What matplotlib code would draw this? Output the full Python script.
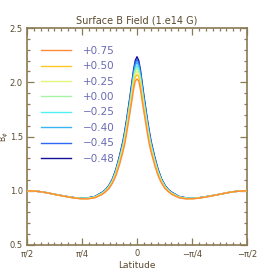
import matplotlib
matplotlib.use('Agg')
import matplotlib.pyplot as plt
import numpy as np
from matplotlib.ticker import MultipleLocator, FixedLocator

# latitude samples (radians, one side; the field is symmetric about the equator)
lat = [0, 0.025, 0.05, 0.075, 0.1, 0.125, 0.15, 0.175, 0.2, 0.25, 0.3, 0.35, 0.4,
       0.45, 0.5, 0.6, 0.7, 0.8, 0.9, 1.0, 1.1, 1.2, 1.3, 1.4, 1.5, np.pi / 2]

labels = ['+0.75', '+0.50', '+0.25', '+0.00', '\u22120.25', '\u22120.40', '\u22120.45', '\u22120.48']
colors = ['#ff8c3c', '#ffc820', '#e4f47c', '#a4f4a4', '#50f0f4', '#3ab4f4', '#2c68f4', '#10109c']

b_p075 = [2.03, 2.01, 1.93, 1.82, 1.72, 1.62, 1.52, 1.43, 1.36, 1.24, 1.14, 1.07, 1.02,
          0.99, 0.965, 0.935, 0.925, 0.926, 0.933, 0.944, 0.957, 0.97, 0.983, 0.993, 0.998, 1.0]
b_p050 = [2.071, 2.048, 1.966, 1.854, 1.75, 1.648, 1.546, 1.454, 1.38, 1.256, 1.152, 1.078, 1.026,
          0.994, 0.969, 0.938, 0.927, 0.927, 0.934, 0.945, 0.957, 0.97, 0.983, 0.993, 0.998, 1.0]
b_p025 = [2.102, 2.077, 1.993, 1.88, 1.773, 1.669, 1.566, 1.472, 1.395, 1.268, 1.161, 1.084, 1.031,
          0.997, 0.972, 0.94, 0.929, 0.928, 0.934, 0.945, 0.957, 0.97, 0.983, 0.993, 0.998, 1.0]
b_p000 = [2.133, 2.105, 2.02, 1.905, 1.795, 1.69, 1.585, 1.49, 1.41, 1.28, 1.17, 1.09, 1.035,
          1.0, 0.975, 0.942, 0.93, 0.929, 0.935, 0.946, 0.958, 0.97, 0.983, 0.993, 0.998, 1.0]
b_m025 = [2.153, 2.124, 2.038, 1.922, 1.81, 1.704, 1.598, 1.502, 1.42, 1.288, 1.176, 1.094, 1.038,
          1.002, 0.977, 0.943, 0.931, 0.93, 0.935, 0.946, 0.958, 0.97, 0.983, 0.993, 0.998, 1.0]
b_m040 = [2.184, 2.153, 2.065, 1.948, 1.833, 1.725, 1.618, 1.52, 1.435, 1.3, 1.185, 1.1, 1.043,
          1.005, 0.98, 0.945, 0.933, 0.931, 0.936, 0.946, 0.958, 0.97, 0.983, 0.993, 0.998, 1.0]
b_m045 = [2.21, 2.177, 2.088, 1.97, 1.852, 1.743, 1.634, 1.536, 1.448, 1.31, 1.193, 1.105, 1.046,
          1.008, 0.983, 0.946, 0.934, 0.931, 0.937, 0.947, 0.958, 0.97, 0.983, 0.993, 0.998, 1.0]
b_m048 = [2.235, 2.2, 2.11, 1.99, 1.87, 1.76, 1.65, 1.55, 1.46, 1.32, 1.2, 1.11, 1.05,
          1.01, 0.985, 0.948, 0.935, 0.932, 0.937, 0.947, 0.958, 0.97, 0.983, 0.993, 0.998, 1.0]

series = [b_p075, b_p050, b_p025, b_p000, b_m025, b_m040, b_m045, b_m048]

xticks = [np.pi / 2, np.pi / 4, 0, -np.pi / 4, -np.pi / 2]
xticklabels = ['\u03c0/2', '\u03c0/4', '0', '\u2212\u03c0/4', '\u2212\u03c0/2']

axis_col = '#8a7a55'
text_col = '#5a4a30'
legend_col = '#6a6ab4'

plt.rcParams['font.family'] = 'DejaVu Sans'
fig = plt.figure(figsize=(2.74, 2.74), dpi=100)
ax = fig.add_axes([27 / 274, 1 - 245 / 274, 220 / 274, 217 / 274])

lat = np.array(lat)
x_full = np.concatenate([-lat[::-1], lat[1:]])
n = len(series)
for i, (vals, col, lab) in enumerate(zip(series, colors, labels)):
    v = np.array(vals)
    y_full = np.concatenate([v[::-1], v[1:]])
    # first series on top, so the orange curve shows where the curves overlap
    ax.plot(x_full, y_full, color=col, lw=1.0, label=lab, zorder=3 + n - i)

ax.set_xlim(np.pi / 2, -np.pi / 2)
ax.set_ylim(0.5, 2.5)
ax.xaxis.set_major_locator(FixedLocator(xticks))
ax.set_xticklabels(xticklabels)
ax.xaxis.set_minor_locator(MultipleLocator(np.pi / 32))
ax.yaxis.set_major_locator(MultipleLocator(0.5))
ax.yaxis.set_minor_locator(MultipleLocator(0.1))
ax.yaxis.set_major_formatter(matplotlib.ticker.FormatStrFormatter('%.1f'))

ax.tick_params(which='both', direction='in', top=True, right=True, color=axis_col,
               labelcolor=text_col, labelsize=6, pad=3)
ax.tick_params(which='major', length=5, width=0.9)
ax.tick_params(which='minor', length=2.5, width=0.9)
for s in ax.spines.values():
    s.set_color(axis_col)
    s.set_linewidth(1.2)

ax.set_title('Surface B Field (1.e14 G)', fontsize=7, color=text_col, pad=3)
ax.set_xlabel('Latitude', fontsize=6.5, color=text_col, labelpad=2)
ax.set_ylabel(r'B$_\phi$', fontsize=5.5, color=text_col)
ax.yaxis.set_label_coords(-0.072, 0.5)

leg = ax.legend(loc='upper left', bbox_to_anchor=(0.064, 0.918), frameon=False,
                fontsize=7.5, handlelength=2.9, handletextpad=1.1, labelspacing=0.52,
                borderaxespad=0, borderpad=0)
for t in leg.get_texts():
    t.set_color(legend_col)

fig.savefig('out.png', dpi=100)
